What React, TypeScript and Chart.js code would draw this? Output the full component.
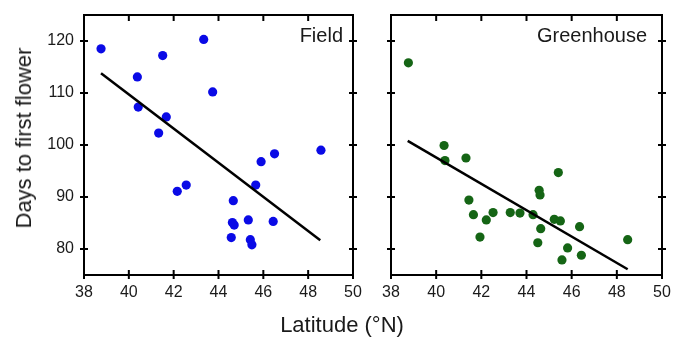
import { useEffect, useRef } from 'react';
import { Chart, registerables } from 'chart.js';

Chart.register(...registerables);

// Axis ticks shared by both panels
const latitudeTicks = [38, 40, 42, 44, 46, 48, 50];
const dayTicks = [80, 90, 100, 110, 120];

// Field-grown plants
const fieldLatitude = [
  38.76, 43.34, 41.51, 40.38, 43.74, 40.42, 41.67, 41.33, 48.57, 46.5, 45.9,
  42.16, 42.56, 45.66, 44.66, 44.62, 44.7, 45.33, 46.44, 44.57, 45.42, 45.49,
];
const fieldDays = [
  118.5, 120.3, 117.2, 113.1, 110.2, 107.3, 105.4, 102.3, 99.0, 98.3, 96.8,
  91.1, 92.3, 92.3, 89.3, 85.1, 84.6, 85.6, 85.3, 82.2, 81.8, 80.8,
];
const fieldFitLatitude = [38.76, 48.54];
const fieldFitDays = [113.8, 81.7];

// Greenhouse-grown plants
const greenhouseLatitude = [
  38.77, 40.35, 40.39, 41.32, 45.41, 44.56, 44.6, 41.45, 41.65, 42.52, 42.22,
  43.28, 43.71, 44.29, 45.23, 45.5, 44.63, 46.35, 41.94, 44.5, 45.82, 46.43,
  45.57, 48.48,
];
const greenhouseDays = [
  115.8, 99.9, 97.0, 97.5, 94.7, 91.3, 90.4, 89.4, 86.6, 87.0, 85.6,
  87.0, 86.9, 86.6, 85.7, 85.4, 83.9, 84.3, 82.3, 81.2, 80.2, 78.8,
  77.9, 81.8,
];
const greenhouseFitLatitude = [38.74, 48.48];
const greenhouseFitDays = [100.8, 76.1];

const FONT = '"Liberation Sans", Arial, Helvetica, sans-serif';
const TEXT = '#1a1a1a';

// Boxed frame with ticks crossing every side, plus the panel label
const framePlugin = {
  id: 'frame',
  afterDraw(chart: any, _args: any, opts: any) {
    const { ctx, chartArea: a, scales } = chart;
    ctx.save();
    ctx.strokeStyle = '#000';
    ctx.lineWidth = 2;
    ctx.strokeRect(a.left, a.top, a.right - a.left, a.bottom - a.top);
    ctx.beginPath();
    for (const v of latitudeTicks) {
      const x = scales.x.getPixelForValue(v);
      ctx.moveTo(x, a.bottom + 4);
      ctx.lineTo(x, a.bottom - 5);
      ctx.moveTo(x, a.top);
      ctx.lineTo(x, a.top + 6);
    }
    for (const v of dayTicks) {
      const y = scales.y.getPixelForValue(v);
      ctx.moveTo(a.left - 4, y);
      ctx.lineTo(a.left + 4, y);
      ctx.moveTo(a.right - 4, y);
      ctx.lineTo(a.right + 4, y);
    }
    ctx.stroke();
    ctx.fillStyle = TEXT;
    ctx.font = `20px ${FONT}`;
    ctx.textAlign = 'right';
    ctx.textBaseline = 'alphabetic';
    ctx.fillText(opts.label, a.right - opts.inset, a.top + 27);
    ctx.restore();
  },
};

type PanelProps = {
  label: string;
  inset: number;
  lat: number[];
  days: number[];
  fitLat: number[];
  fitDays: number[];
  color: string;
  left: number;
  width: number;
  yAxisWidth: number;
  padRight: number;
  showYLabels: boolean;
};

function Panel(p: PanelProps) {
  const ref = useRef<HTMLCanvasElement>(null);
  useEffect(() => {
    if (!ref.current) return;
    const chart = new Chart(ref.current, {
      type: 'scatter',
      data: {
        datasets: [
          {
            data: p.fitLat.map((x, i) => ({ x, y: p.fitDays[i] })),
            showLine: true,
            borderColor: '#000',
            borderWidth: 2.5,
            pointRadius: 0,
            order: 0,
          },
          {
            data: p.lat.map((x, i) => ({ x, y: p.days[i] })),
            backgroundColor: p.color,
            borderColor: p.color,
            borderWidth: 0,
            pointRadius: 4.6,
            order: 1,
          },
        ],
      },
      options: {
        responsive: false,
        animation: false,
        layout: { padding: { top: 15, right: p.padRight, bottom: 0, left: 0 } },
        plugins: {
          legend: { display: false },
          tooltip: { enabled: false },
          frame: { label: p.label, inset: p.inset },
        } as any,
        scales: {
          x: {
            type: 'linear',
            min: 38,
            max: 50,
            grid: { display: false },
            border: { display: false },
            afterBuildTicks: (s: any) => {
              s.ticks = latitudeTicks.map((value) => ({ value }));
            },
            afterFit: (s: any) => {
              s.height = 62;
              s.paddingLeft = 0;
              s.paddingRight = 0;
            },
            ticks: {
              color: TEXT,
              font: { family: FONT, size: 16 },
              padding: 0,
              maxRotation: 0,
              callback: (v: any) => String(v),
            },
          },
          y: {
            type: 'linear',
            min: 75,
            max: 125,
            grid: { display: false },
            border: { display: false },
            afterBuildTicks: (s: any) => {
              s.ticks = dayTicks.map((value) => ({ value }));
            },
            afterFit: (s: any) => {
              s.width = p.yAxisWidth;
              s.paddingTop = 0;
              s.paddingBottom = 0;
            },
            ticks: {
              display: p.showYLabels,
              color: TEXT,
              font: { family: FONT, size: 16 },
              padding: 2,
              callback: (v: any) => String(v),
            },
          },
        },
      },
      plugins: [framePlugin],
    });
    return () => chart.destroy();
  }, []);
  return (
    <canvas
      ref={ref}
      width={p.width}
      height={337}
      style={{ position: 'absolute', left: p.left, top: 0, width: p.width, height: 337 }}
    />
  );
}

export default function App() {
  return (
    <div
      style={{
        position: 'fixed',
        left: 0,
        top: 0,
        width: 673,
        height: 337,
        background: '#fff',
        overflow: 'hidden',
        fontFamily: FONT,
        color: TEXT,
      }}
    >
      <Panel
        label="Field"
        inset={10}
        lat={fieldLatitude}
        days={fieldDays}
        fitLat={fieldFitLatitude}
        fitDays={fieldFitDays}
        color="#0a0ae6"
        left={0}
        width={372}
        yAxisWidth={84}
        padRight={19}
        showYLabels={true}
      />
      <Panel
        label="Greenhouse"
        inset={15}
        lat={greenhouseLatitude}
        days={greenhouseDays}
        fitLat={greenhouseFitLatitude}
        fitDays={greenhouseFitDays}
        color="#156515"
        left={360}
        width={313}
        yAxisWidth={31}
        padRight={11}
        showYLabels={false}
      />
      <div
        style={{
          position: 'absolute',
          left: 24,
          top: 138,
          fontSize: 22,
          lineHeight: '22px',
          whiteSpace: 'nowrap',
          transform: 'translate(-50%, -50%) rotate(-90deg)',
        }}
      >
        Days to first flower
      </div>
      <div
        style={{
          position: 'absolute',
          left: 342,
          top: 314,
          fontSize: 22,
          lineHeight: '22px',
          whiteSpace: 'nowrap',
          transform: 'translateX(-50%)',
        }}
      >
        Latitude (°N)
      </div>
    </div>
  );
}
